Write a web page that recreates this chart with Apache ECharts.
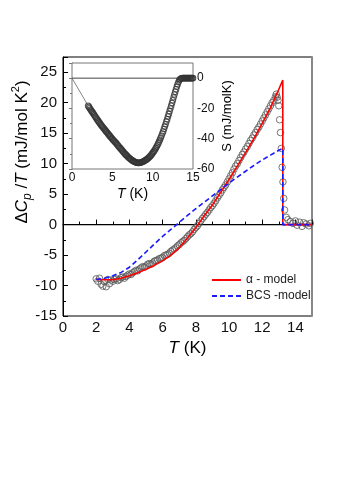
<!DOCTYPE html>
<html>
<head>
<meta charset="utf-8">
<script src="https://cdn.jsdelivr.net/npm/echarts@6/dist/echarts.min.js"></script>
<style>
  html, body { margin: 0; padding: 0; background: #fff; }
  #diagram { width: 354px; height: 501px; }
</style>
</head>
<body>
<div id="diagram"></div>
<script>
// measured dCp/T (mJ/mol K^2) against T (K)
var expData = [
  [2.0,-8.9],[2.1,-9.3],[2.2,-8.8],[2.3,-9.8],[2.4,-10.1],[2.5,-9.4],[2.6,-10.2],[2.7,-9.0],
  [2.8,-9.7],[2.9,-9.1],[3.0,-9.3],[3.1,-9.0],[3.2,-8.9],[3.3,-9.2],[3.4,-9.0],[3.5,-8.7],
  [3.6,-8.6],[3.7,-8.8],[3.8,-8.5],[3.9,-8.3],[4.0,-8.1],[4.1,-8.2],[4.2,-7.9],[4.3,-7.7],
  [4.4,-7.5],[4.5,-7.6],[4.6,-7.3],[4.7,-7.1],[4.8,-6.9],[4.9,-7.0],[5.0,-6.8],[5.1,-6.5],
  [5.2,-6.4],[5.3,-6.5],[5.4,-6.3],[5.5,-6.0],[5.6,-5.9],[5.7,-5.8],[5.8,-5.6],[5.9,-5.5],
  [6.0,-5.4],[6.1,-5.1],[6.2,-5.0],[6.3,-4.9],[6.4,-4.7],[6.5,-4.4],[6.6,-4.2],[6.7,-4.0],
  [6.8,-3.8],[6.9,-3.5],[7.0,-3.3],[7.1,-3.0],[7.2,-2.8],[7.3,-2.6],[7.4,-2.3],[7.5,-2.0],
  [7.6,-1.7],[7.7,-1.5],[7.8,-1.2],[7.9,-0.8],[8.0,-0.5],[8.1,-0.2],[8.2,0.2],[8.3,0.6],
  [8.4,1.0],[8.5,1.3],[8.6,1.7],[8.7,2.0],[8.8,2.4],[8.9,2.8],[9.0,3.1],[9.1,3.5],
  [9.2,3.9],[9.3,4.4],[9.4,4.8],[9.5,5.2],[9.6,5.7],[9.7,6.1],[9.8,6.5],[9.9,7.0],
  [10.0,7.5],[10.1,8.0],[10.2,8.5],[10.3,9.1],[10.4,9.6],[10.5,10.0],[10.6,10.5],[10.7,11.0],
  [10.8,11.5],[10.9,11.9],[11.0,12.4],[11.1,12.8],[11.2,13.3],[11.3,13.8],[11.4,14.2],
  [11.5,14.7],[11.6,15.1],[11.7,15.6],[11.8,16.0],[11.9,16.5],[12.0,17.0],[12.1,17.5],
  [12.2,18.0],[12.3,18.5],[12.4,19.0],[12.5,19.5],[12.6,20.0],[12.7,20.4],[12.8,21.0],
  [12.85,21.4],[12.9,20.9],[12.95,20.4],[13.0,19.5],[13.05,17.2],[13.1,15.1],[13.15,12.5],
  [13.2,9.4],[13.25,7.0],[13.3,4.3],[13.35,2.4],[13.45,1.2],[13.55,0.8],[13.7,0.5],
  [13.85,0.2],[14.0,0.6],[14.1,-0.1],[14.25,0.4],[14.4,-0.3],[14.5,0.3],[14.65,0.1],
  [14.8,-0.2],[14.9,0.2]
];
var alphaModel = [
  [2,-9.0],[2.5,-9.05],[3,-9.05],[3.5,-8.8],[4,-8.4],[4.5,-7.9],[5,-7.35],[5.5,-6.7],
  [6,-5.95],[6.5,-5.0],[7,-3.8],[7.5,-2.2],[8,-0.5],[8.5,1.4],[9,3.2],[9.5,5.3],[10,7.4],
  [10.5,9.6],[11,11.8],[11.5,14.1],[12,16.6],[12.5,19.2],[13,22.2],[13.24,23.7],[13.24,0],[15,0]
];
var bcsModel = [
  [2,-9.0],[2.5,-8.8],[3,-8.4],[3.5,-7.85],[4,-7.0],[4.5,-5.8],[5,-4.5],[5.5,-3.2],
  [6,-1.95],[6.5,-0.8],[7,0.35],[7.5,1.5],[8,2.6],[8.5,3.65],[9,4.7],[9.5,5.75],[10,6.8],
  [10.5,7.8],[11,8.75],[11.5,9.7],[12,10.6],[12.5,11.4],[13,12.2],[13.24,12.5],[13.24,0],[15,0]
];
var zeroLine = [[0,0],[15,0]];

// inset: entropy difference S (mJ/molK)
var entropyData = [
  [2.0,-18.2],[2.1,-19.0],[2.2,-19.9],[2.3,-20.7],[2.4,-21.5],[2.5,-22.3],[2.6,-23.1],
  [2.7,-23.9],[2.8,-24.7],[2.9,-25.5],[3.0,-26.3],[3.1,-27.1],[3.2,-27.9],[3.3,-28.7],
  [3.4,-29.4],[3.5,-30.2],[3.6,-30.9],[3.7,-31.6],[3.8,-32.3],[3.9,-32.9],[4.0,-33.6],
  [4.1,-34.3],[4.2,-35.0],[4.3,-35.6],[4.4,-36.3],[4.5,-37.0],[4.6,-37.6],[4.7,-38.3],
  [4.8,-38.9],[4.9,-39.6],[5.0,-40.2],[5.1,-40.8],[5.2,-41.4],[5.3,-42.0],[5.4,-42.5],
  [5.5,-43.1],[5.6,-43.8],[5.7,-44.5],[5.8,-45.1],[5.9,-45.8],[6.0,-46.4],[6.1,-47.0],
  [6.2,-47.7],[6.3,-48.3],[6.4,-49.0],[6.5,-49.6],[6.6,-50.2],[6.7,-50.7],[6.8,-51.3],
  [6.9,-51.8],[7.0,-52.4],[7.1,-52.8],[7.2,-53.3],[7.3,-53.7],[7.4,-54.1],[7.5,-54.5],
  [7.6,-54.8],[7.7,-55.1],[7.8,-55.4],[7.9,-55.6],[8.0,-55.8],[8.1,-55.9],[8.2,-56.0],
  [8.3,-56.0],[8.4,-55.9],[8.5,-55.8],[8.6,-55.6],[8.7,-55.4],[8.8,-55.2],[8.9,-54.9],
  [9.0,-54.6],[9.1,-54.3],[9.2,-53.9],[9.3,-53.5],[9.4,-53.1],[9.5,-52.6],[9.6,-52.1],
  [9.7,-51.5],[9.8,-50.9],[9.9,-50.2],[10.0,-49.5],[10.1,-48.7],[10.2,-47.9],[10.3,-47.1],
  [10.4,-46.2],[10.5,-45.2],[10.6,-44.2],[10.7,-43.1],[10.8,-41.9],[10.9,-40.7],[11.0,-39.4],
  [11.1,-38.0],[11.2,-36.6],[11.3,-35.2],[11.4,-33.6],[11.5,-32.0],[11.6,-30.4],[11.7,-28.7],
  [11.8,-27.1],[11.9,-25.3],[12.0,-23.6],[12.1,-21.8],[12.2,-20.0],[12.3,-18.2],[12.4,-16.4],
  [12.5,-14.6],[12.6,-12.7],[12.7,-10.8],[12.8,-9.0],[12.9,-7.3],[13.0,-5.6],[13.1,-4.0],
  [13.2,-2.6],[13.3,-1.4],[13.4,-0.7],[13.5,-0.3],[13.6,-0.1],[13.7,0],[13.8,0],[13.9,0],
  [14.0,0],[14.1,0],[14.2,0],[14.3,0],[14.4,0],[14.5,0],[14.6,0],[14.7,0],[14.8,0],
  [14.9,0],[15.0,0]
];
var entropyLine = [[0,0],[2.0,-18.2]];

var font = "Liberation Sans, Arial, sans-serif";
var myChart = echarts.init(document.getElementById("diagram"));

var option = {
  animation: false,
  backgroundColor: "#fff",
  textStyle: { fontFamily: font },
  grid: [
    { left: 63, top: 57, width: 249, height: 259, show: true, borderColor: "#000", borderWidth: 1 },
    { left: 72, top: 63, width: 121, height: 106, show: true, borderColor: "#777", borderWidth: 1, backgroundColor: "#fff", z: 5 }
  ],
  legend: {
    data: ["α - model", "BCS -model"],
    orient: "vertical",
    left: 206,
    top: 269,
    itemWidth: 29,
    itemHeight: 10,
    itemGap: 4,
    itemStyle: { opacity: 0 },
    textStyle: { fontSize: 12, color: "#222", fontFamily: font }
  },
  xAxis: [
    {
      gridIndex: 0, type: "value", min: 0, max: 15, interval: 2,
      name: "{i|T} (K)", nameLocation: "middle", nameGap: 22,
      nameTextStyle: { fontSize: 17, color: "#000", rich: { i: { fontSize: 17, fontStyle: "italic", color: "#000" } } },
      axisLine: { lineStyle: { color: "#000", width: 1 } },
      axisTick: { inside: true, length: 5, lineStyle: { color: "#000" } },
      minorTick: { show: true, splitNumber: 2, length: 3, lineStyle: { color: "#000" } },
      axisLabel: { fontSize: 15, color: "#111", margin: 4, showMaxLabel: false },
      splitLine: { show: false }
    },
    {
      gridIndex: 1, type: "value", min: 0, max: 15, interval: 5,
      name: "{i|T} (K)", nameLocation: "middle", nameGap: 18,
      nameTextStyle: { fontSize: 14, color: "#000", rich: { i: { fontSize: 14, fontStyle: "italic", color: "#000" } } },
      axisLine: { lineStyle: { color: "#777" } },
      axisTick: { inside: true, length: 3, lineStyle: { color: "#777" } },
      minorTick: { show: true, splitNumber: 2, length: 2, lineStyle: { color: "#777" } },
      axisLabel: { fontSize: 12, color: "#111", margin: 3 },
      splitLine: { show: false }
    }
  ],
  yAxis: [
    {
      gridIndex: 0, type: "value", min: -15, max: 27.5, interval: 5,
      axisLine: { lineStyle: { color: "#000" } },
      axisTick: { inside: true, length: 5, lineStyle: { color: "#000" } },
      minorTick: { show: true, splitNumber: 2, length: 3, lineStyle: { color: "#000" } },
      axisLabel: { fontSize: 15, color: "#111", margin: 6, showMaxLabel: false },
      splitLine: { show: false }
    },
    {
      gridIndex: 0, type: "value", min: -15, max: 27.5, position: "right",
      axisLine: { show: true, lineStyle: { color: "#888", width: 2 } },
      axisTick: { show: false }, axisLabel: { show: false }, splitLine: { show: false }
    },
    {
      gridIndex: 1, type: "value", min: -60, max: 10, interval: 20, position: "right",
      name: "S (mJ/molK)", nameLocation: "middle", nameGap: 28, nameRotate: 90,
      nameTextStyle: { fontSize: 13, color: "#000" },
      axisLine: { lineStyle: { color: "#777" } },
      axisTick: { inside: true, length: 3, lineStyle: { color: "#777" } },
      minorTick: { show: true, splitNumber: 2, length: 2, lineStyle: { color: "#777" } },
      axisLabel: { fontSize: 12, color: "#111", margin: 4, showMaxLabel: false },
      splitLine: { show: false }
    }
  ],
  graphic: [
    {
      type: "text", x: 22, y: 152, rotation: Math.PI / 2,
      style: {
        text: "{r|Δ}{i|C}{s|p}{r| /}{i|T}{r| (mJ/mol K}{u|2}{r|)}",
        align: "center", verticalAlign: "middle",
        rich: {
          r: { fontSize: 17, fontFamily: font, fill: "#000", lineHeight: 24, verticalAlign: "middle" },
          i: { fontSize: 17, fontFamily: font, fontStyle: "italic", fill: "#000", lineHeight: 24, verticalAlign: "middle" },
          s: { fontSize: 12, fontFamily: font, fontStyle: "italic", fill: "#000", verticalAlign: "bottom", padding: [8, 0, 0, 0] },
          u: { fontSize: 11, fontFamily: font, fill: "#000", verticalAlign: "top", padding: [0, 0, 8, 0] }
        }
      }
    }
  ],
  series: [
    {
      type: "line", xAxisIndex: 0, yAxisIndex: 0, data: zeroLine,
      symbol: "none", lineStyle: { color: "#000", width: 1.2 }, silent: true, z: 1
    },
    {
      type: "scatter", xAxisIndex: 0, yAxisIndex: 0, data: expData,
      symbol: "circle", symbolSize: 6.5,
      itemStyle: { color: "rgba(255,255,255,0)", borderColor: "#555", borderWidth: 1 }, z: 2
    },
    {
      name: "α - model", type: "line", xAxisIndex: 0, yAxisIndex: 0, data: alphaModel,
      symbol: "none", itemStyle: { color: "#f00" }, lineStyle: { color: "#f00", width: 1.6 }, z: 3
    },
    {
      name: "BCS -model", type: "line", xAxisIndex: 0, yAxisIndex: 0, data: bcsModel,
      symbol: "none", itemStyle: { color: "#1a1aff" }, lineStyle: { color: "#1a1aff", width: 1.6, type: [5, 3] }, z: 4
    },
    {
      type: "line", xAxisIndex: 1, yAxisIndex: 2, data: zeroLine,
      symbol: "none", lineStyle: { color: "#444", width: 1 }, silent: true, z: 6
    },
    {
      type: "line", xAxisIndex: 1, yAxisIndex: 2, data: entropyLine,
      symbol: "none", lineStyle: { color: "#666", width: 0.8 }, silent: true, z: 6
    },
    {
      type: "scatter", xAxisIndex: 1, yAxisIndex: 2, data: entropyData,
      symbol: "circle", symbolSize: 5.5,
      itemStyle: { color: "rgba(255,255,255,0)", borderColor: "#333", borderWidth: 1.1 }, z: 7
    }
  ]
};
myChart.setOption(option);
</script>
</body>
</html>
